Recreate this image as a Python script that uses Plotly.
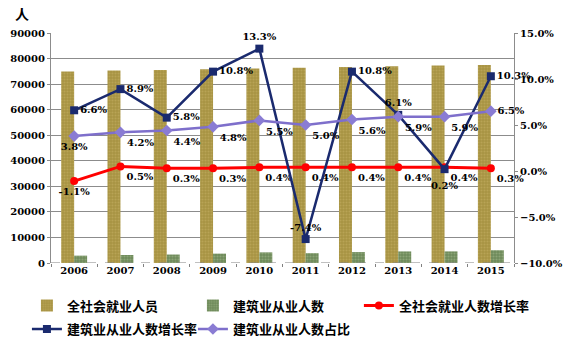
import plotly.graph_objects as go

# 年份
years = ["2006", "2007", "2008", "2009", "2010", "2011", "2012", "2013", "2014", "2015"]

# 全社会就业人员（万人）
total_emp = [74978, 75321, 75564, 75828, 76105, 76420, 76704, 76977, 77253, 77451]
# 建筑业从业人数（万人）
constr_emp = [2878, 3134, 3315, 3672, 4161, 3852, 4268, 4529, 4538, 5004]

# 增长率与占比（%）
total_growth = [-1.1, 0.5, 0.3, 0.3, 0.4, 0.4, 0.4, 0.4, 0.4, 0.3]
constr_growth = [6.6, 8.9, 5.8, 10.8, 13.3, -7.4, 10.8, 6.1, 0.2, 10.3]
constr_share = [3.8, 4.2, 4.4, 4.8, 5.5, 5.0, 5.6, 5.9, 5.9, 6.5]

num_font = dict(family="DejaVu Serif", size=10, color="#000000", weight="bold")
cjk_font = dict(family="Noto Sans CJK SC", size=13, color="#000000", weight="bold")

fig = go.Figure()

fig.add_trace(go.Bar(
    x=years, y=total_emp, name="全社会就业人员", legend="legend",
    marker=dict(color="#B09A45",
                pattern=dict(shape=".", fgcolor="#C8B46A", bgcolor="#A89342",
                             size=3, solidity=0.4),
                line=dict(width=0)),
    yaxis="y",
))
fig.add_trace(go.Bar(
    x=years, y=constr_emp, name="建筑业从业人数", legend="legend",
    marker=dict(color="#7D9668",
                pattern=dict(shape=".", fgcolor="#A9BE92", bgcolor="#6E8A5A",
                             size=3, solidity=0.4),
                line=dict(width=0)),
    yaxis="y",
))

fig.add_trace(go.Scatter(
    x=years, y=total_growth, name="全社会就业人数增长率", yaxis="y2", legend="legend3",
    mode="lines+markers+text", cliponaxis=False,
    line=dict(color="#FF0000", width=3),
    marker=dict(symbol="circle", size=8, color="#FF0000"),
    text=[f"{v:.1f}%" for v in total_growth],
    textposition=["bottom center"] + ["bottom right"] * 9,
    textfont=num_font,
))

# 2014 年增长率标签单独下移，避免与红线标签重叠
i14 = years.index("2014")
growth_text = [f"{v:.1f}%" for v in constr_growth]
growth_text[i14] = ""
fig.add_trace(go.Scatter(
    x=years, y=constr_growth, name="建筑业从业人数增长率", yaxis="y2", legend="legend2",
    mode="lines+markers+text", cliponaxis=False,
    line=dict(color="#1A2A6E", width=2.5),
    marker=dict(symbol="square", size=8, color="#1A2A6E"),
    text=growth_text,
    textposition=["middle right", "middle right", "middle right", "middle right",
                  "top center", "top center", "middle right", "top center",
                  "bottom center", "middle right"],
    textfont=num_font,
))
fig.add_annotation(x=i14, y=constr_growth[i14], xref="x", yref="y2",
                   text=f"{constr_growth[i14]:.1f}%", showarrow=False,
                   xanchor="center", yanchor="middle", yshift=-16,
                   font=num_font)

fig.add_trace(go.Scatter(
    x=years, y=constr_share, name="建筑业从业人数占比", yaxis="y2", legend="legend2",
    mode="lines+markers+text", cliponaxis=False,
    line=dict(color="#7E6FCB", width=2.5),
    marker=dict(symbol="diamond", size=9, color="#8A7CD3"),
    text=[f"{v:.1f}%" for v in constr_share],
    textposition=["bottom center"] + ["bottom right"] * 8 + ["middle right"],
    textfont=num_font,
))

# 横轴虚线
fig.add_shape(type="line", xref="paper", x0=0, x1=1, yref="y", y0=0, y1=0,
              line=dict(color="#808080", width=1, dash="dash"), layer="above")

fig.add_annotation(text="人", xref="paper", yref="paper", x=-0.062, y=1.035,
                   xanchor="center", yanchor="bottom", showarrow=False,
                   font=dict(family="Noto Sans CJK SC", size=14, color="#000", weight="bold"))

legend_common = dict(orientation="h", xanchor="left", yanchor="top",
                     font=cjk_font, traceorder="normal",
                     itemwidth=30, bgcolor="rgba(0,0,0,0)", borderwidth=0)

fig.update_layout(
    width=572, height=341,
    margin=dict(l=51, r=58, t=33, b=78, autoexpand=False),
    paper_bgcolor="white", plot_bgcolor="white",
    barmode="group", bargap=0.44, bargroupgap=0,
    xaxis=dict(type="category", range=[-0.5, len(years) - 0.5],
               showgrid=False, showline=False, zeroline=False,
               ticks="outside", tickson="boundaries", ticklen=3, tickcolor="#808080",
               tickfont=num_font),
    yaxis=dict(range=[0, 90000], dtick=10000, showgrid=True, gridcolor="#8C8C8C",
               gridwidth=1, zeroline=False, showline=True, linecolor="#8C8C8C",
               ticks="outside", ticklen=3, tickcolor="#8C8C8C", tickfont=num_font,
               tickformat="d"),
    yaxis2=dict(range=[-10, 15], dtick=5, overlaying="y", side="right",
                showgrid=False, zeroline=False, showline=True, linecolor="#8C8C8C",
                ticks="outside", ticklen=3, tickcolor="#8C8C8C", tickfont=num_font,
                ticksuffix="%", tickformat=".1f"),
    legend=dict(x=-0.052, y=-0.12, entrywidth=121, **legend_common),
    legend3=dict(x=0.665, y=-0.12, **legend_common),
    legend2=dict(x=-0.052, y=-0.222, entrywidth=121, **legend_common),
    showlegend=True,
)

fig.write_html("out.html")
